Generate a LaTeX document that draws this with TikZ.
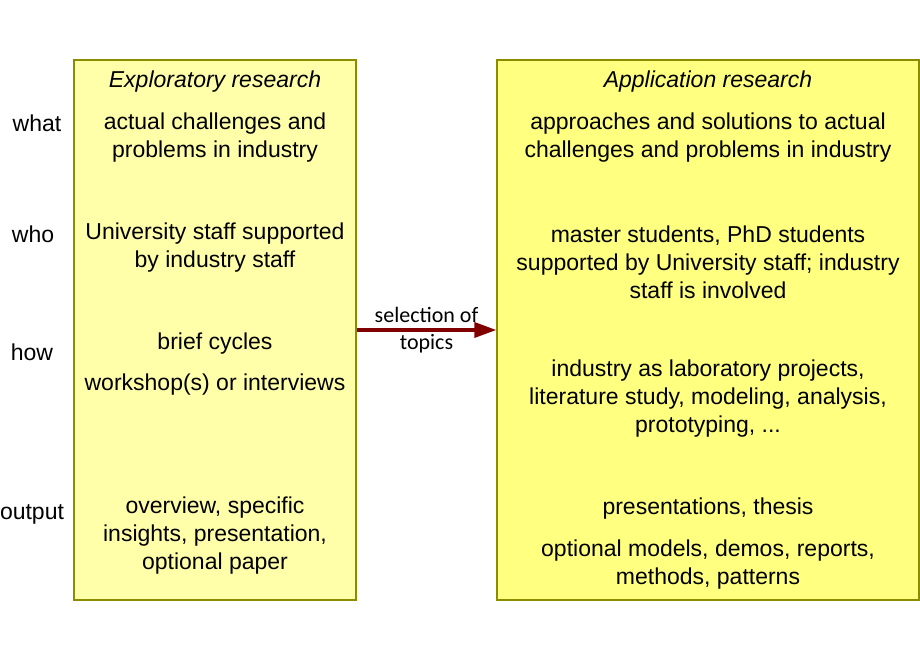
\documentclass[tikz,border=0pt]{standalone}
\usepackage{fontspec}
\usepackage{xcolor}
\usepackage{tikz}
\usetikzlibrary{arrows.meta}
\setmainfont{Liberation Sans}
\newfontfamily\calfont{Carlito}
\definecolor{paleyellow}{HTML}{FFFFAA}
\definecolor{brightyellow}{HTML}{FFFF80}
\definecolor{boxline}{HTML}{8C8C00}
\definecolor{arrowred}{HTML}{800000}

\begin{document}
\begin{tikzpicture}[x=1pt, y=-1pt,
    box/.style={draw=boxline, line width=1.3pt, minimum height=540pt, inner sep=0pt},
    txt/.style={align=center, font=\fontsize{23}{28}\selectfont},
    rowlabel/.style={font=\fontsize{23}{28}\selectfont}]
    \useasboundingbox (0, 0) rectangle (920, 660);

    % Boxes
    \node[box, fill=paleyellow, minimum width=282pt] (explore) at (215, 330) {};
    \node[box, fill=brightyellow, minimum width=422pt] (apply) at (708, 330) {};

    % Row labels
    \node[rowlabel] (what) at (37, 123) {what};
    \node[rowlabel] (who) at (33, 234) {who};
    \node[rowlabel] (how) at (32, 352) {how};
    \node[rowlabel] (output) at (32, 514) {output};

    % Exploratory research texts
    \node[txt] (exptitle) at (215, 82) {\itshape Exploratory research};
    \node[txt] (expwhat) at (215, 138) {actual challenges and\\problems in industry};
    \node[txt] (expwho) at (215, 248) {University staff supported\\by industry staff};
    \node[txt] (expcycles) at (215, 344) {brief cycles};
    \node[txt] (expworkshop) at (215, 385) {workshop(s) or interviews};
    \node[txt] (expoutput) at (215, 536) {overview, specific\\insights, presentation,\\optional paper};

    % Application research texts
    \node[txt] (apptitle) at (708, 82) {\itshape Application research};
    \node[txt] (appwhat) at (708, 138) {approaches and solutions to actual\\challenges and problems in industry};
    \node[txt] (appwho) at (708, 262) {master students, PhD students\\supported by University staff; industry\\staff is involved};
    \node[txt] (apphow) at (708, 399) {industry as laboratory projects,\\literature study, modeling, analysis,\\prototyping, ...};
    \node[txt] (appthesis) at (708, 509) {presentations, thesis};
    \node[txt] (appmodels) at (708, 565) {optional models, demos, reports,\\methods, patterns};

    % Arrow between the boxes
    \draw[arrowred, line width=3.5pt, -{Triangle[length=22pt, width=15pt]}] (explore) -- (apply)
        node[midway, black, align=center, font=\calfont\fontsize{22}{27}\selectfont] (topics) {selection of\\topics};
\end{tikzpicture}
\end{document}
